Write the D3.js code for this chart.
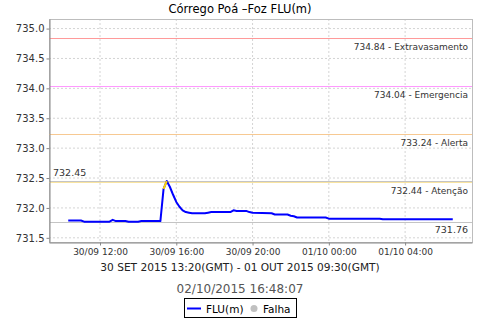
<!DOCTYPE html>
<html>
<head>
<meta charset="utf-8">
<script src="https://cdn.jsdelivr.net/npm/d3@7"></script>
<style>
  body { margin: 0; background: #fff; }
  text { font-family: "DejaVu Sans", sans-serif; }
</style>
</head>
<body>
<svg id="chart" width="480" height="320"></svg>
<script>
// readings of FLU(m), local time (GMT-3), every change
const times = [
  "2015-09-30T10:20", "2015-09-30T11:00", "2015-09-30T11:10", "2015-09-30T12:30",
  "2015-09-30T12:40", "2015-09-30T12:50", "2015-09-30T13:20", "2015-09-30T13:30",
  "2015-09-30T14:00", "2015-09-30T14:10", "2015-09-30T15:10", "2015-09-30T15:20",
  "2015-09-30T15:30", "2015-09-30T15:40", "2015-09-30T15:50", "2015-09-30T16:00",
  "2015-09-30T16:10", "2015-09-30T16:20", "2015-09-30T16:30", "2015-09-30T16:40",
  "2015-09-30T16:50", "2015-09-30T17:30", "2015-09-30T17:40", "2015-09-30T17:50",
  "2015-09-30T18:50", "2015-09-30T19:00", "2015-09-30T19:10", "2015-09-30T19:40",
  "2015-09-30T19:50", "2015-09-30T20:00", "2015-09-30T21:00", "2015-09-30T21:10",
  "2015-09-30T21:50", "2015-09-30T22:00", "2015-09-30T22:10", "2015-09-30T22:20",
  "2015-09-30T23:50", "2015-10-01T00:00", "2015-10-01T02:40", "2015-10-01T02:50",
  "2015-10-01T06:30"
];
const levels = [
  731.79, 731.79, 731.77, 731.77,
  731.80, 731.78, 731.78, 731.77,
  731.77, 731.78, 731.78, 732.32,
  732.45, 732.35, 732.22, 732.10,
  732.02, 731.96, 731.93, 731.92,
  731.91, 731.91, 731.92, 731.93,
  731.93, 731.96, 731.95, 731.95,
  731.93, 731.92, 731.91, 731.89,
  731.89, 731.87, 731.86, 731.84,
  731.84, 731.82, 731.82, 731.81,
  731.81
];
// the segment drawn in yellow just before the peak
const flagged = ["2015-09-30T15:20", "2015-09-30T15:30"];

// reference levels (alarm markers)
const markerValues = [734.84, 734.04, 733.24, 732.44];
const markerNames = ["Extravasamento", "Emergencia", "Alerta", "Aten\u00e7\u00e3o"];
const markerColors = ["#ff9a9a", "#ff99ff", "#f7c992", "#f9e4a0"];

const yTicks = [731.5, 732.0, 732.5, 733.0, 733.5, 734.0, 734.5, 735.0];
const timeDomain = ["2015-09-30T09:19:30", "2015-10-01T07:30:30"];
const yDomain = [731.43, 735.16];
const minVal = 731.76;

const titleText = "C\u00f3rrego Po\u00e1 \u2013Foz FLU(m)";
const periodText = "30 SET 2015 13:20(GMT) - 01 OUT 2015 09:30(GMT)";
const stampText = "02/10/2015 16:48:07";

function drawChart() {
    const svg = d3.select("#chart");
    const parse = d3.utcParse("%Y-%m-%dT%H:%M");
    const parseS = d3.utcParse("%Y-%m-%dT%H:%M:%S");

    const data = times.map((t, i) => ({ t: parse(t), v: levels[i], k: t }));

    const left = 49, right = 472, top = 19, bottom = 242;

    const x = d3.scaleUtc()
        .domain(timeDomain.map(parseS))
        .range([left, right]);
    const y = d3.scaleLinear()
        .domain(yDomain)
        .range([bottom, top]);

    // title
    svg.append("text")
        .attr("x", 240).attr("y", 13)
        .attr("text-anchor", "middle")
        .attr("font-size", "11.5px")
        .attr("fill", "#000")
        .text(titleText);

    // grid lines
    const xTicks = x.ticks(d3.utcHour.every(4));
    svg.append("g").selectAll("line")
        .data(xTicks)
        .join("line")
        .attr("x1", d => x(d)).attr("x2", d => x(d))
        .attr("y1", top).attr("y2", bottom)
        .attr("stroke", "#d4d4d4")
        .attr("stroke-dasharray", "2,2");
    svg.append("g").selectAll("line")
        .data(yTicks)
        .join("line")
        .attr("x1", left).attr("x2", right)
        .attr("y1", d => y(d)).attr("y2", d => y(d))
        .attr("stroke", "#d4d4d4")
        .attr("stroke-dasharray", "2,2");

    // plot frame (top / right)
    svg.append("rect")
        .attr("x", left + 0.5).attr("y", top + 0.5)
        .attr("width", right - left).attr("height", bottom - top)
        .attr("fill", "none")
        .attr("stroke", "#bdbdbd");

    // max / min lines
    const vmax = d3.max(levels);
    [vmax, minVal].forEach(v => {
        const yy = Math.floor(y(v)) + 0.5;
        svg.append("line")
            .attr("x1", left).attr("x2", right)
            .attr("y1", yy).attr("y2", yy)
            .attr("stroke", "#c4c4c4");
    });

    // marker lines
    const mg = svg.append("g");
    markerValues.forEach((v, i) => {
        const yy = Math.round(y(v)) + 0.5;
        mg.append("line")
            .attr("x1", left).attr("x2", right)
            .attr("y1", yy).attr("y2", yy)
            .attr("stroke", markerColors[i]);
        mg.append("text")
            .attr("x", right - 4).attr("y", yy + 11)
            .attr("text-anchor", "end")
            .attr("font-size", "9px")
            .attr("fill", "#333")
            .text(v.toFixed(2) + " - " + markerNames[i]);
    });

    // max / min labels
    svg.append("text")
        .attr("x", left + 4).attr("y", y(vmax) - 5)
        .attr("font-size", "9.5px")
        .attr("fill", "#333")
        .text(vmax.toFixed(2));
    svg.append("text")
        .attr("x", right - 4).attr("y", y(minVal) + 11)
        .attr("text-anchor", "end")
        .attr("font-size", "9.5px")
        .attr("fill", "#333")
        .text(minVal.toFixed(2));

    // data line
    const line = d3.line()
        .x(d => x(d.t))
        .y(d => y(d.v));
    svg.append("path")
        .datum(data)
        .attr("d", line)
        .attr("fill", "none")
        .attr("stroke", "#0000ff")
        .attr("stroke-width", 2)
        .attr("stroke-linejoin", "round");
    svg.append("path")
        .datum(data.filter(d => flagged.includes(d.k)))
        .attr("d", line)
        .attr("fill", "none")
        .attr("stroke", "#ffd800")
        .attr("stroke-width", 2);

    // axes
    const yAxis = d3.axisLeft(y)
        .tickValues(yTicks)
        .tickFormat(d3.format(".1f"))
        .tickSize(3)
        .tickSizeOuter(0);
    const gy = svg.append("g")
        .attr("transform", `translate(${left + 0.5},0)`)
        .call(yAxis);
    gy.select(".domain").attr("stroke", "#888");
    gy.selectAll(".tick line").attr("stroke", "#888");
    gy.selectAll(".tick text")
        .attr("font-family", "DejaVu Sans")
        .attr("font-size", "10px")
        .attr("fill", "#333")
        .attr("x", -5);

    const xAxis = d3.axisBottom(x)
        .tickValues(xTicks)
        .tickFormat(d3.utcFormat("%d/%m %H:%M"))
        .tickSize(3)
        .tickSizeOuter(0);
    const gx = svg.append("g")
        .attr("transform", `translate(0,${bottom + 0.5})`)
        .call(xAxis);
    gx.select(".domain").attr("stroke", "#888");
    gx.selectAll(".tick line").attr("stroke", "#888");
    gx.selectAll(".tick text")
        .attr("font-family", "DejaVu Sans")
        .attr("font-size", "9px")
        .attr("fill", "#333")
        .attr("y", 6);

    // subtitles
    svg.append("text")
        .attr("x", 240).attr("y", 271)
        .attr("text-anchor", "middle")
        .attr("font-size", "10.6px")
        .attr("fill", "#222")
        .text(periodText);
    svg.append("text")
        .attr("x", 240).attr("y", 293)
        .attr("text-anchor", "middle")
        .attr("font-size", "12px")
        .attr("fill", "#555")
        .text(stampText);

    // legend
    const lg = svg.append("g");
    lg.append("rect")
        .attr("x", 184.5).attr("y", 298.5)
        .attr("width", 112).attr("height", 19)
        .attr("fill", "#fff")
        .attr("stroke", "#000");
    lg.append("line")
        .attr("x1", 187).attr("x2", 201)
        .attr("y1", 308.5).attr("y2", 308.5)
        .attr("stroke", "#0000ff").attr("stroke-width", 2);
    lg.append("text")
        .attr("x", 206).attr("y", 312.5)
        .attr("font-size", "10.5px")
        .text("FLU(m)");
    lg.append("circle")
        .attr("cx", 254).attr("cy", 308.5).attr("r", 3.5)
        .attr("fill", "#c0c0c0");
    lg.append("text")
        .attr("x", 263).attr("y", 312.5)
        .attr("font-size", "10.5px")
        .text("Falha");
}

drawChart();
</script>
</body>
</html>
